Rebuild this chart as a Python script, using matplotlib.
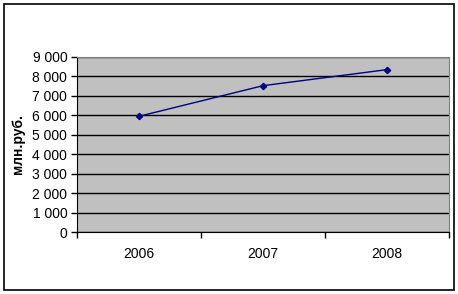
import matplotlib.pyplot as plt
from matplotlib.patches import Rectangle
from matplotlib.ticker import FuncFormatter, FixedLocator, NullFormatter

years = ['2006', '2007', '2008']
values = [5950, 7525, 8350]
yticks = [0, 1000, 2000, 3000, 4000, 5000, 6000, 7000, 8000, 9000]

plt.rcParams['font.family'] = ['Liberation Sans', 'DejaVu Sans']

fig = plt.figure(figsize=(4.58, 2.94), dpi=100)
# outer chart frame
fig.patches.append(Rectangle((4 / 458, 4 / 294), 450 / 458, 286 / 294,
                             transform=fig.transFigure, fill=False,
                             edgecolor='black', linewidth=1.2))

ax = fig.add_axes([77 / 458, (294 - 232) / 294, 372 / 458, 175 / 294])
ax.set_facecolor('#c0c0c0')

x = list(range(len(years)))
ax.plot(x, values, color='#000080', linewidth=1, marker='D', markersize=3.2,
        markerfacecolor='#000080', markeredgecolor='#000080')

ax.set_xlim(-0.5, len(years) - 0.5)
ax.set_ylim(0, 9000)
ax.set_yticks(yticks)
ax.yaxis.set_major_formatter(FuncFormatter(lambda v, p: f'{int(v):,}'.replace(',', ' ')))
ax.grid(axis='y', color='black', linewidth=1)
ax.set_axisbelow(True)

# category labels in the middle, tick marks at the boundaries
ax.xaxis.set_major_locator(FixedLocator([-0.5, 0.5, 1.5, 2.5]))
ax.xaxis.set_major_formatter(NullFormatter())
ax.xaxis.set_minor_locator(FixedLocator(x))
ax.set_xticklabels(years, minor=True)
ax.tick_params(axis='x', which='minor', length=0, pad=11, labelsize=10)
ax.tick_params(axis='x', which='major', length=4, direction='out', width=1)
ax.tick_params(axis='y', length=4, direction='out', width=1, labelsize=10, pad=3)

for side in ['top', 'right']:
    ax.spines[side].set_color('#808080')
for side in ['left', 'bottom']:
    ax.spines[side].set_color('black')

ax.set_ylabel('млн.руб.', fontweight='bold', fontsize=10, labelpad=5)

fig.savefig('out.png', dpi=100)
